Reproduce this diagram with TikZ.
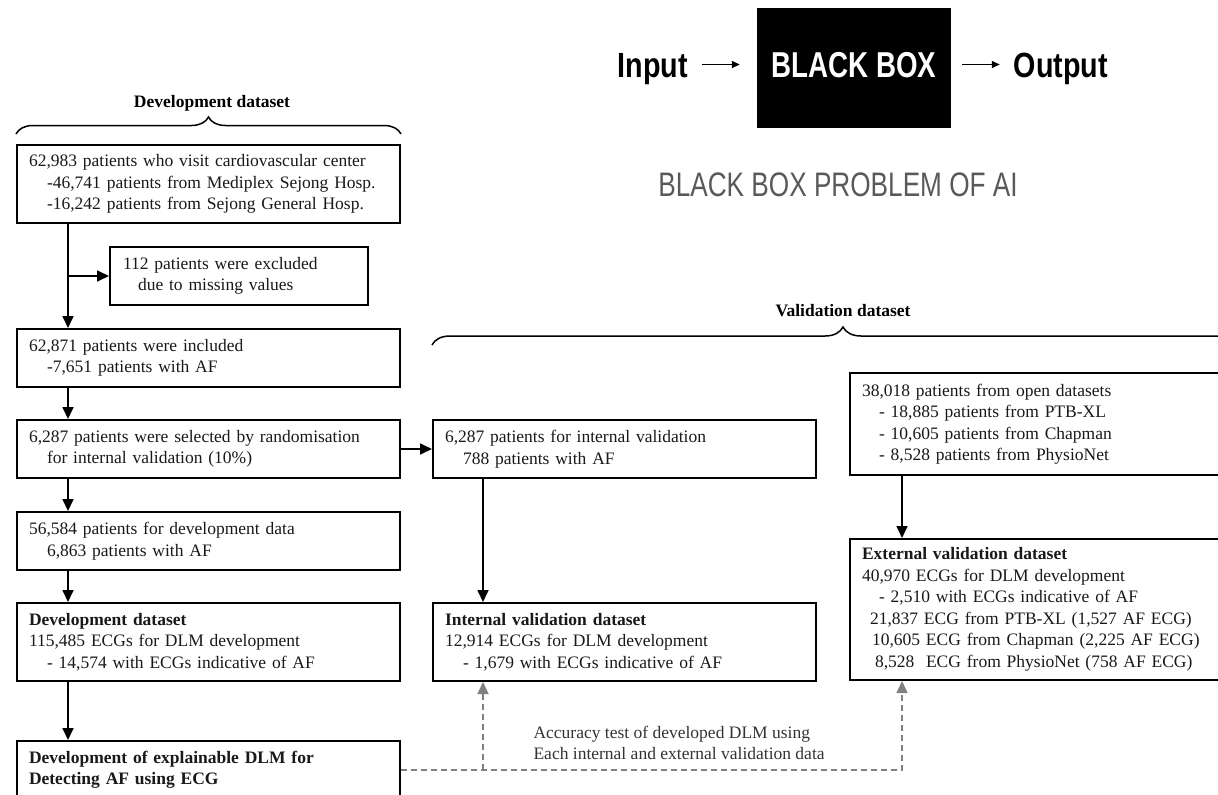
\documentclass[tikz,border=0pt]{standalone}
\usepackage{fontspec}
\setmainfont{Liberation Serif}
\newfontfamily\condfont[FakeStretch=0.82]{Liberation Sans}
\newfontfamily\narrowfont[FakeStretch=0.77]{Liberation Sans}
\usetikzlibrary{positioning, arrows.meta, decorations.pathreplacing}
\tikzset{
	>={Triangle[length=12pt,width=11pt]}, % puntas de flecha llenas
	node distance=31pt, % distancia entre cajas
	box/.style={draw, line width=2pt, text width=359pt, inner xsep=12pt, inner ysep=0pt,
		align=left, font=\fontsize{17.5}{21.5}\selectfont, text=black!90}, % cajas del diagrama
	flow/.style={->, line width=1.7pt}, % flechas negras
	check/.style={->, gray, line width=1.4pt, dash pattern=on 6pt off 4pt}, % flechas de validacion
	curly/.style={decorate, decoration={brace, amplitude=17pt}, line width=1.5pt}, % llaves
	heading/.style={font=\fontsize{17.5}{21.5}\selectfont\bfseries}, % titulos sobre llaves
	bbarrow/.style={-{Triangle[length=8pt,width=7pt]}, line width=1.4pt} % flechas de la caja negra
}

\begin{document}
\begin{tikzpicture}[x=1pt, y=-1pt]
	\useasboundingbox (0,0) rectangle (1218,795);
	\clip (0,0) rectangle (1218,795);

	% caja negra
	\node[fill=black, minimum width=194pt, minimum height=120pt, text=white,
		font=\narrowfont\fontsize{36}{36}\selectfont\bfseries, text height=26pt, text depth=8pt] (bbox) at (854,68) {BLACK BOX};
	\node[anchor=east, inner sep=0pt, text height=25pt, text depth=0pt,
		font=\condfont\fontsize{35}{35}\selectfont\bfseries] (input) at (688,64.5) {Input};
	\node[inner sep=0pt, text height=25pt, text depth=0pt,
		font=\condfont\fontsize{35}{35}\selectfont\bfseries] (output) at (1061,64.5) {Output};
	\draw[bbarrow, shorten <=14pt, shorten >=17pt] (input) -- (input -| bbox.west);
	\draw[bbarrow, shorten <=11pt, shorten >=14pt] (bbox.east |- output) -- (output);
	\node[font=\narrowfont\fontsize{34}{34}\selectfont, text=black!65] (aititle) at (838,185) {BLACK BOX PROBLEM OF AI};

	% columna de desarrollo
	\node[box, minimum height=78pt] (visit) at (208.5,184) {62,983 patients who visit cardiovascular center\\
		\hspace*{18pt}-46,741 patients from Mediplex Sejong Hosp.\\
		\hspace*{18pt}-16,242 patients from Sejong General Hosp.};
	\node[box, text width=232pt, inner xsep=13pt, minimum height=58pt] (excluded) at (239,276) {112 patients were excluded\\
		\hspace*{15pt}due to missing values};
	\node[box, minimum height=58pt, below=104pt of visit] (included) {62,871 patients were included\\
		\hspace*{18pt}-7,651 patients with AF};
	\node[box, minimum height=58pt, below=of included] (select) {6,287 patients were selected by randomisation\\
		\hspace*{18pt}for internal validation (10\%)};
	\node[box, minimum height=58pt, below=32pt of select] (devdata) {56,584 patients for development data\\
		\hspace*{18pt}6,863 patients with AF};
	\node[box, minimum height=78pt, below=of devdata] (devset) {\textbf{Development dataset}\\
		115,485 ECGs for DLM development\\
		\hspace*{18pt}- 14,574 with ECGs indicative of AF};
	\node[box, minimum height=58pt, below=58pt of devset] (explain) {\textbf{Development of explainable DLM for}\\
		\textbf{Detecting AF using ECG}};

	% validacion interna
	\node[box, minimum height=58pt, right=of select] (intval) {6,287 patients for internal validation\\
		\hspace*{18pt}788 patients with AF};
	\node[box, minimum height=78pt, right=of devset] (intset) {\textbf{Internal validation dataset}\\
		12,914 ECGs for DLM development\\
		\hspace*{18pt}- 1,679 with ECGs indicative of AF};

	% validacion externa
	\node[box, text width=379pt, minimum height=102pt] (open) at (1051.5,424) {38,018 patients from open datasets\\
		\hspace*{17pt}- 18,885 patients from PTB-XL\\
		\hspace*{17pt}- 10,605 patients from Chapman\\
		\hspace*{17pt}- 8,528 patients from PhysioNet};
	\node[box, text width=379pt, minimum height=141pt, below=62pt of open] (extset) {\textbf{External validation dataset}\\
		40,970 ECGs for DLM development\\
		\hspace*{17pt}- 2,510 with ECGs indicative of AF\\
		\hspace*{8pt}21,837 ECG from PTB-XL (1,527 AF ECG)\\
		\hspace*{10pt}10,605 ECG from Chapman (2,225 AF ECG)\\
		\hspace*{13pt}8,528\ \ ECG from PhysioNet (758 AF ECG)};

	\node[anchor=west, align=left, font=\fontsize{17.5}{21}\selectfont, text=black!80] (accuracy) at (530,743) {Accuracy test of developed DLM using\\
		Each internal and external validation data};

	% llaves
	\draw[curly] ([yshift=10pt]visit.north west) -- ([yshift=10pt]visit.north east);
	\node[heading] (devlabel) at (212,103) {Development dataset};
	\coordinate (valtop) at (0,345);
	\draw[curly, decoration={amplitude=18pt}] (intval.north west |- valtop) -- (open.north east |- valtop);
	\node[heading] (vallabel) at (843,311) {Validation dataset};

	% flechas
	\coordinate (leftcol) at (68,0);
	\coordinate (midcol) at (483,0);
	\coordinate (rightcol) at (902,0);
	\draw[flow] (visit.south -| leftcol) -- (included.north -| leftcol);
	\draw[flow] (excluded.west -| leftcol) -- (excluded.west);
	\draw[flow] (included.south -| leftcol) -- (select.north -| leftcol);
	\draw[flow] (select.south -| leftcol) -- (devdata.north -| leftcol);
	\draw[flow] (devdata.south -| leftcol) -- (devset.north -| leftcol);
	\draw[flow] (devset.south -| leftcol) -- (explain.north -| leftcol);
	\draw[flow] (select) -- (intval);
	\draw[flow] (intval.south -| midcol) -- (intset.north -| midcol);
	\draw[flow] (open.south -| rightcol) -- (extset.north -| rightcol);
	\draw[check] (explain.east) -| (extset.south -| rightcol);
	\draw[check] (explain.east -| midcol) -- (intset.south -| midcol);
\end{tikzpicture}
\end{document}
